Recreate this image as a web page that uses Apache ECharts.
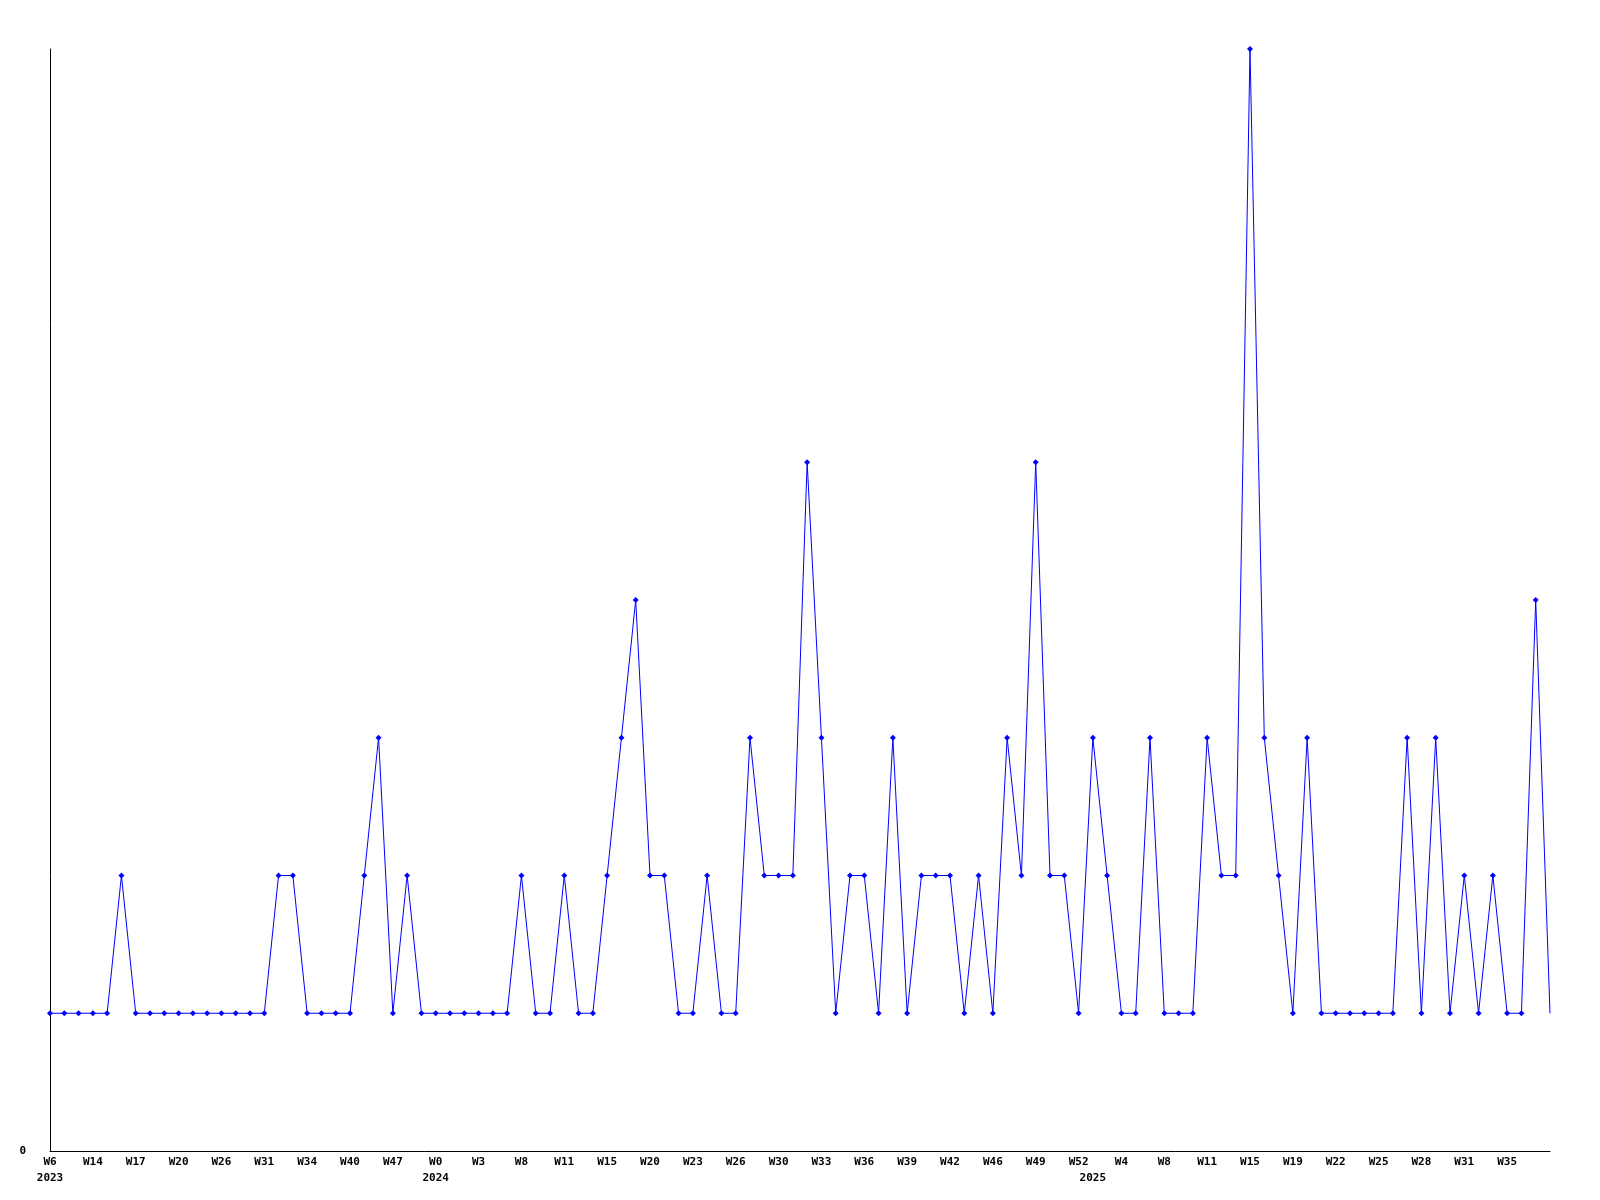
<!DOCTYPE html>
<html>
<head>
<meta charset="utf-8">
<script src="https://cdn.jsdelivr.net/npm/echarts@6/dist/echarts.min.js"></script>
<style>
  html, body { margin: 0; padding: 0; background: #fff; }
  #chart { width: 1600px; height: 1200px; }
</style>
</head>
<body>
<div id="chart"></div>
<script>
// weekly counts, one per point (106 points)
const counts = [
  1, 1, 1, 1, 1, 2, 1, 1, 1, 1,
  1, 1, 1, 1, 1, 1, 2, 2, 1, 1,
  1, 1, 2, 3, 1, 2, 1, 1, 1, 1,
  1, 1, 1, 2, 1, 1, 2, 1, 1, 2,
  3, 4, 2, 2, 1, 1, 2, 1, 1, 3,
  2, 2, 2, 5, 3, 1, 2, 2, 1, 3,
  1, 2, 2, 2, 1, 2, 1, 3, 2, 5,
  2, 2, 1, 3, 2, 1, 1, 3, 1, 1,
  1, 3, 2, 2, 8, 3, 2, 1, 3, 1,
  1, 1, 1, 1, 1, 3, 1, 3, 1, 2,
  1, 2, 1, 1, 4, 1
];

// week labels, shown on every 3rd point
const weekLabels = [
  "W6", "W14", "W17", "W20", "W26", "W31", "W34", "W40", "W47",
  "W0", "W3", "W8", "W11", "W15", "W20", "W23", "W26", "W30",
  "W33", "W36", "W39", "W42", "W46", "W49", "W52", "W4", "W8",
  "W11", "W15", "W19", "W22", "W25", "W28", "W31", "W35"
];

// year labels: point index -> year
const yearIndex = [0, 27, 73];
const yearLabels = ["2023", "2024", "2025"];

const categories = counts.map((_, i) => String(i));
const seriesData = counts.map((v, i) =>
  i === counts.length - 1 ? { value: v, symbol: "none" } : v
);

const font = "DejaVu Sans Mono";

const chart = echarts.init(document.getElementById("chart"));
chart.setOption({
  animation: false,
  backgroundColor: "#ffffff",
  grid: { left: 50, right: 50, top: 49, bottom: 49, containLabel: false },
  xAxis: [
    {
      type: "category",
      data: categories,
      boundaryGap: false,
      axisLine: { lineStyle: { color: "#000", width: 1 } },
      axisTick: { show: false },
      axisLabel: {
        interval: (i) => i % 3 === 0,
        formatter: (v, i) => weekLabels[i / 3] || "",
        fontFamily: font,
        fontWeight: "bold",
        fontSize: 11,
        color: "#000",
        margin: 6,
      },
      splitLine: { show: false },
    },
    {
      type: "category",
      data: categories,
      boundaryGap: false,
      position: "bottom",
      offset: 16,
      axisLine: { show: false },
      axisTick: { show: false },
      axisLabel: {
        interval: (i) => yearIndex.includes(i),
        formatter: (v, i) => {
          const k = yearIndex.indexOf(i);
          return k >= 0 ? yearLabels[k] : "";
        },
        fontFamily: font,
        fontWeight: "bold",
        fontSize: 11,
        color: "#000",
        margin: 6,
      },
      splitLine: { show: false },
    },
  ],
  yAxis: {
    type: "value",
    min: 0,
    max: 8,
    interval: 8,
    axisLine: { show: true, lineStyle: { color: "#000", width: 1 } },
    axisTick: { show: false },
    splitLine: { show: false },
    axisLabel: {
      formatter: (v) => (v === 0 ? "0" : ""),
      fontFamily: font,
      fontWeight: "bold",
      fontSize: 11,
      color: "#000",
      margin: 24,
    },
  },
  series: [
    {
      type: "line",
      xAxisIndex: 0,
      data: seriesData,
      symbol: "diamond",
      symbolSize: 6,
      showAllSymbol: true,
      lineStyle: { color: "#0000ff", width: 1 },
      itemStyle: { color: "#0000ff" },
    },
  ],
});
</script>
</body>
</html>
